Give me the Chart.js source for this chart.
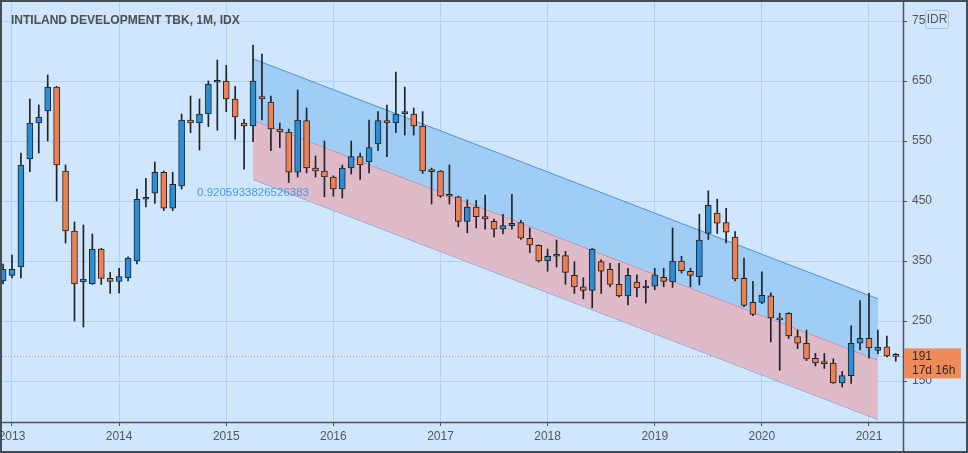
<!DOCTYPE html>
<html><head><meta charset="utf-8">
<script src="https://cdn.jsdelivr.net/npm/chart.js@4/dist/chart.umd.min.js"></script>
<style>
html,body{margin:0;padding:0;background:#cfe6fc;}
#wrap{position:absolute;left:0;top:0;width:968px;height:453px;box-sizing:border-box;border:2px solid #454e57;background:#cfe6fc;overflow:hidden;}
canvas{display:block;}
</style></head><body>
<div id="wrap"><canvas id="c" width="964" height="449"></canvas></div>
<script>
// Monthly candles, first one = Dec 2012 (month index -1, Jan 2013 = 0)
const firstMonth = -1;
const opens  = [317,326,340,520,580,600,640,500,400,315,312,370,321,316,322,350,453,463,498,438,475,585,580,595,648,650,620,580,575,624,615,570,565,498,584,505,500,490,470,505,524,515,545,584,580,595,595,575,500,500,459,457,416,440,424,416,403,409,414,388,376,350,358,359,326,307,301,349,336,311,292,315,305,308,323,315,350,333,324,396,430,414,390,321,281,281,292,255,263,224,213,188,180,180,147,159,213,221,201,207,192];
const highs  = [345,360,530,620,610,660,641,510,415,410,395,371,331,338,357,470,488,515,500,498,595,625,620,650,685,676,641,586,710,695,625,580,570,635,605,525,550,492,510,550,530,585,599,610,665,640,605,599,505,501,510,458,452,451,460,420,428,461,418,405,377,370,385,366,349,322,371,352,346,346,338,327,318,338,338,405,358,338,428,467,453,438,399,355,316,332,297,263,264,235,235,196,196,187,166,242,284,296,235,225,196];
const lows   = [312,322,322,499,530,550,450,380,250,240,311,311,296,297,317,345,440,446,434,434,470,564,535,574,568,599,553,503,549,585,534,539,481,490,497,490,457,458,455,495,486,497,534,524,564,560,560,496,445,456,445,407,397,405,403,390,395,403,386,364,348,333,340,311,296,287,272,296,307,290,277,290,280,302,307,306,330,307,310,386,396,380,317,274,259,279,215,168,221,204,184,175,171,146,140,146,202,188,195,190,183];
const closes = [336,336,510,580,590,640,510,400,312,320,370,321,316,324,355,453,455,498,438,478,585,580,595,645,650,620,590,575,650,620,570,565,498,585,505,500,490,470,505,524,510,539,584,580,595,599,575,500,499,458,458,416,440,424,420,403,409,413,388,377,350,358,359,331,307,301,370,333,311,292,326,305,308,327,316,350,334,326,385,443,413,398,320,276,261,293,255,252,225,213,187,180,179,147,159,213,221,205,206,192,191];
const yearLabels = ['2013','2014','2015','2016','2017','2018','2019','2020','2021'];
const yearTickMonths = [0,12,24,36,48,60,72,84,96];
const priceTicks = [150,250,350,450,550,650,750];
// Regression channel (month index at start/end and prices)
const channelX     = [27, 97];
const channelUpper = [687, 287];
const channelMid   = [585, 185];
const channelLower = [486, 86];
const pearsonR = '0.9205933826526383';
const titleText = 'INTILAND DEVELOPMENT TBK, 1M, IDX';
const currency = 'IDR';
const countdown = '17d 16h';

const UP = '#2b8fd8', DOWN = '#ee8051', EDGE = '#1f2326';
const xs = opens.map((_, i) => firstMonth + i);
const bodyData = xs.map((x, i) => ({x, y: [opens[i], closes[i]]}));
const wickData = xs.map((x, i) => ({x, y: [lows[i], highs[i]]}));
const bodyColors = opens.map((o, i) => closes[i] >= o ? UP : DOWN);
const pts = arr => channelX.map((x, i) => ({x, y: arr[i]}));

const FONT = "'Liberation Sans', Arial, sans-serif";

const deco = {
  id: 'deco',
  beforeDatasetsDraw(chart) {
    const {ctx, chartArea: a, scales: {y}} = chart;
    const py = Math.round(y.getPixelForValue(closes[closes.length - 1])) + 0.5;
    ctx.save();
    ctx.strokeStyle = '#e38080'; ctx.lineWidth = 1; ctx.setLineDash([1, 2]);
    ctx.beginPath(); ctx.moveTo(a.left, py); ctx.lineTo(a.right, py); ctx.stroke();
    ctx.restore();
  },
  afterDatasetsDraw(chart) {
    const {ctx, scales: {x, y}} = chart;
    ctx.save();
    ctx.font = '11.5px ' + FONT;
    ctx.fillStyle = '#449be6';
    ctx.textAlign = 'center'; ctx.textBaseline = 'middle';
    ctx.fillText(pearsonR, x.getPixelForValue(channelX[0]), y.getPixelForValue(channelLower[0]) + 13);
    ctx.restore();
  },
  afterDraw(chart) {
    const {ctx, chartArea: a, scales: {y}, width, height} = chart;
    ctx.save();
    ctx.strokeStyle = '#4b545c'; ctx.lineWidth = 1.5;
    ctx.beginPath();
    ctx.moveTo(a.right + 0.5, 0); ctx.lineTo(a.right + 0.5, height);
    ctx.moveTo(0, a.bottom + 0.5); ctx.lineTo(width, a.bottom + 0.5);
    ctx.stroke();
    ctx.font = 'bold 12px ' + FONT;
    ctx.fillStyle = '#4e4e4e';
    ctx.textAlign = 'left'; ctx.textBaseline = 'alphabetic';
    ctx.fillText(titleText, 9, 22);
    const bx = a.right + 22, by = 8;
    ctx.fillStyle = '#cfe6fc';
    ctx.strokeStyle = '#a9c3dc'; ctx.lineWidth = 1;
    ctx.beginPath(); ctx.roundRect(bx + 0.5, by + 0.5, 23, 18, 2); ctx.fill(); ctx.stroke();
    ctx.font = '12px ' + FONT; ctx.fillStyle = '#555';
    ctx.textAlign = 'center'; ctx.textBaseline = 'middle';
    ctx.fillText(currency, bx + 12, by + 10);
    const py = y.getPixelForValue(closes[closes.length - 1]);
    ctx.fillStyle = '#ef8a5a';
    ctx.fillRect(a.right + 1, py - 8, 57, 30);
    ctx.fillStyle = '#2c2c2c';
    ctx.textAlign = 'left';
    ctx.font = '12px ' + FONT;
    ctx.fillText(String(closes[closes.length - 1]), a.right + 9, py);
    ctx.fillText(countdown, a.right + 9, py + 14);
    ctx.restore();
  }
};

const zeroPad = s => { s.paddingLeft = 0; s.paddingRight = 0; s.paddingTop = 0; s.paddingBottom = 0; };

new Chart(document.getElementById('c'), {
  type: 'bar',
  data: {
    datasets: [
      {type: 'bar', data: bodyData, backgroundColor: bodyColors, borderColor: EDGE, borderWidth: 1,
       borderSkipped: false, barThickness: 6, minBarLength: 2, grouped: false, order: 0},
      {type: 'bar', data: wickData, backgroundColor: EDGE, borderWidth: 0,
       barThickness: 1, grouped: false, order: 1},
      {type: 'line', data: pts(channelUpper), borderColor: '#4d93d8', borderWidth: 1, pointRadius: 0,
       fill: {target: 3}, backgroundColor: '#a0cdf6', order: 3},
      {type: 'line', data: pts(channelMid), borderColor: '#e0606c', borderWidth: 1, pointRadius: 0,
       fill: {target: 4}, backgroundColor: '#dfbbc9', order: 4},
      {type: 'line', data: pts(channelLower), borderColor: '#4d93d8', borderWidth: 1, pointRadius: 0,
       fill: false, order: 5}
    ]
  },
  options: {
    responsive: false, animation: false, devicePixelRatio: 1,
    layout: {padding: 0},
    plugins: {legend: {display: false}, tooltip: {enabled: false}},
    scales: {
      x: {
        type: 'linear', min: -1.12, max: 99.81, offset: false,
        afterBuildTicks: s => { s.ticks = yearTickMonths.map(v => ({value: v})); },
        afterFit: s => { s.height = 29; zeroPad(s); },
        grid: {color: '#b3d1ee', tickColor: '#4b545c', tickLength: 4, drawTicks: true, offset: false},
        border: {display: false},
        ticks: {callback: (v, i) => yearLabels[i], color: '#555', font: {family: FONT, size: 12}, padding: 3, maxRotation: 0, autoSkip: false}
      },
      y: {
        type: 'linear', position: 'right', min: 81.7, max: 781.7,
        afterBuildTicks: s => { s.ticks = priceTicks.map(v => ({value: v})); },
        afterFit: s => { s.width = 63; zeroPad(s); },
        grid: {color: '#b3d1ee', tickColor: '#4b545c', tickLength: 4, drawTicks: true},
        border: {display: false},
        ticks: {callback: v => String(v), color: '#555', font: {family: FONT, size: 12}, padding: 5}
      }
    }
  },
  plugins: [deco]
});
</script>
</body></html>
